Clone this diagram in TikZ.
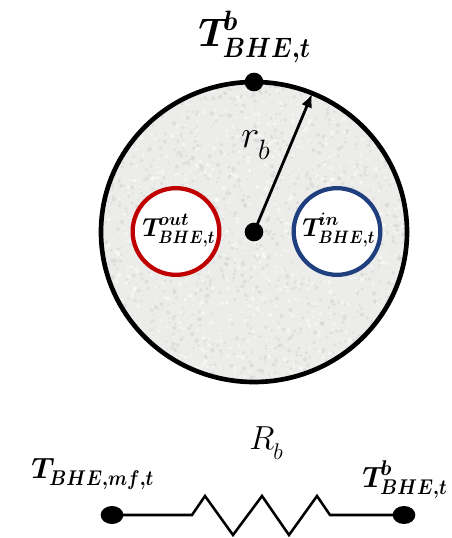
\documentclass[tikz,border=0pt]{standalone}
\usepackage{fix-cm}
\usepackage{amsmath,graphicx}
\usetikzlibrary{arrows.meta,shapes.geometric}
\definecolor{grout}{HTML}{ECECEA}
\definecolor{pipered}{HTML}{C00000}
\definecolor{pipeblue}{HTML}{1F3F7F}
% #1 size of T, #2 size of the scripts, #3 superscript, #4 subscript
\newcommand{\blab}[4]{{\boldmath\fontsize{#1}{#1}\selectfont$T$\kern-0.18em\rlap{\raisebox{0.4em}{\fontsize{#2}{#2}\selectfont$#3$}}\raisebox{-0.27em}{\fontsize{#2}{#2}\selectfont\scalebox{0.87}[1]{$#4$}}}}
\newcommand{\plab}[3]{{\fontsize{#1}{#1}\selectfont$#3$\kern-0.03em\raisebox{-0.3em}{\fontsize{#2}{#2}\selectfont$b$}}}
\tikzset{
  x=0.75pt,y=-0.75pt,
  wall/.style={line width=3.5pt,draw=black},
  pipe/.style={line width=3.2pt,fill=white,circle,minimum size=65pt,inner sep=0pt},
  bead/.style={circle,fill=black,inner sep=0pt,minimum size=14pt},
  flatbead/.style={ellipse,fill=black,inner sep=0pt,minimum width=17pt,minimum height=13.5pt},
  wire/.style={line width=1.9pt,line join=miter},
  lab/.style={inner sep=0pt,text=black,anchor=base west}
}
\begin{document}
\begin{tikzpicture}
\useasboundingbox (0,0) rectangle (451,538);
% borehole body
\fill[grout] (254,232) ellipse [x radius=153,y radius=150];
\begin{scope}
\clip (254,232) ellipse [x radius=153,y radius=150];
\pgfmathsetseed{4217}
\foreach \i in {1,...,2600}{
  \pgfmathsetmacro{\px}{100+308*rnd}
  \pgfmathsetmacro{\py}{80+304*rnd}
  \pgfmathsetmacro{\ps}{0.6+1.6*rnd}
  \pgfmathsetmacro{\pc}{rnd>0.55?100:65}
  \fill[white!\pc!gray,opacity=0.5] (\px,\py) circle [radius=\ps];
}
\end{scope}
\draw[wall] (254,232) ellipse [x radius=153,y radius=150];
% pipes
\node[pipe,draw=pipered] (out) at (176,231.5) {};
\node[pipe,draw=pipeblue] (in) at (337,231.5) {};
\node[lab] (tout) at (142,236) {\blab{19.5}{13.5}{out}{BHE{,}t}};
\node[lab] (tin) at (302,236) {\blab{19.5}{13.5}{in}{BHE{,}t}};
% centre, wall point and radius
\node[bead] (c) at (254,232) {};
\node[bead] (top) at (254,82) {};
\coordinate (rim) at (312,94);
\draw[line width=2.1pt,-{Latex[length=10pt,width=8.5pt]}] (c.center) -- (rim);
\node[lab] (rb) at (241,148) {\plab{29}{21}{r}};
\node[lab] (ttop) at (198,47) {\blab{30}{21}{b}{BHE{,}t}};
% resistor
\node[flatbead] (a) at (112,515) {};
\node[flatbead] (b) at (404,515) {};
\coordinate (z0) at (192,515);
\coordinate (z1) at (205,496);
\coordinate (z2) at (233,535);
\coordinate (z3) at (262,496);
\coordinate (z4) at (289,535);
\coordinate (z5) at (317,496);
\coordinate (z6) at (330,515);
\draw[wire] (a.center) -- (z0) -- (z1) -- (z2) -- (z3) -- (z4) -- (z5) -- (z6) -- (b.center);
\node[lab] (rr) at (249,449) {\plab{25}{17}{R}};
\node[lab] (tmf) at (31,478) {\blab{22}{16}{}{BHE{,}mf{,}t}};
\node[lab] (tb) at (362,487) {\blab{22}{16}{b}{BHE{,}t}};
\end{tikzpicture}
\end{document}
